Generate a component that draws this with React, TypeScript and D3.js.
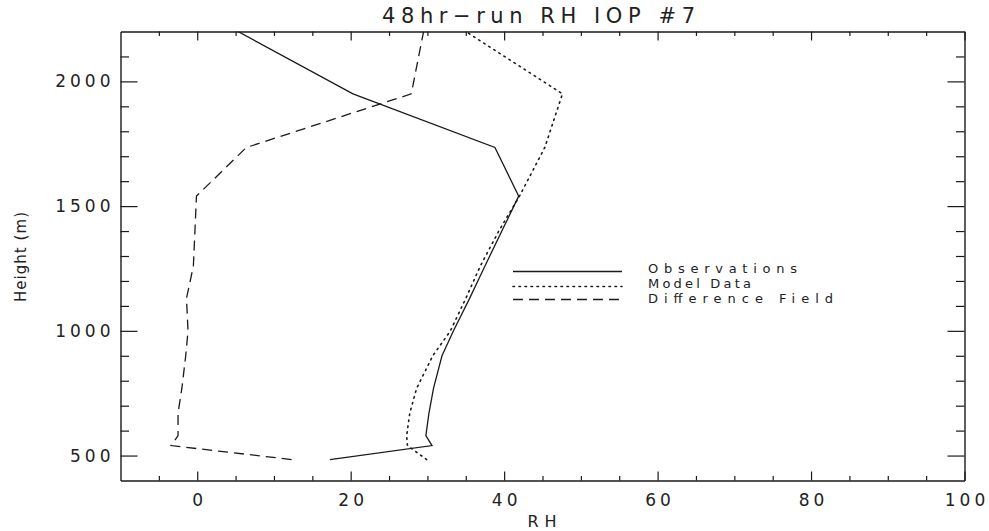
import * as d3 from 'd3'
import { useEffect, useRef } from 'react'

// sounding levels (m) and the three RH profiles
const heights = [484, 540, 580, 670, 770, 900, 1000, 1130, 1260, 1400, 1540, 1735, 1950, 2200]
const observations = [17.3, 30.6, 29.8, 30.2, 30.8, 31.9, 33.4, 35.5, 37.5, 39.7, 41.9, 38.8, 20.3, 5.3]
const modelData = [29.9, 27.4, 27.3, 27.7, 28.6, 30.7, 33.0, 35.0, 36.9, 39.3, 42.0, 45.3, 47.6, 35.0]
const differenceField = [12.3, -3.4, -2.5, -2.5, -2.0, -1.5, -1.2, -1.4, -0.5, -0.3, -0.1, 6.4, 27.9, 29.5]

const xTicks = [0, 20, 40, 60, 80, 100]
const xMinorTicks = [-5, 5, 10, 15, 25, 30, 35, 45, 50, 55, 65, 70, 75, 85, 90, 95]
const yTicks = [500, 1000, 1500, 2000]
const yMinorTicks = [600, 700, 800, 900, 1100, 1200, 1300, 1400, 1600, 1700, 1800, 1900, 2100]

const seriesNames = ['Observations', 'Model Data', 'Difference Field']
const seriesDash = ['none', '1.5,4.5', '10,6']
const legendTextLength = [149, 103, 185]

const FONT = '"DejaVu Sans", Verdana, sans-serif'
const INK = '#1a1a1a'

const App = () => {
    const svgRef = useRef<SVGSVGElement>(null)

    useEffect(() => {
        const w = 989
        const h = 531
        const left = 120.5, right = 964.5, top = 31.5, bottom = 480.5

        const svg = d3.select(svgRef.current).attr('width', w).attr('height', h)
        svg.selectAll('*').remove()

        const x = d3.scaleLinear().domain([-10, 100]).range([left, right])
        const y = d3.scaleLinear().domain([400, 2200]).range([bottom, top])

        svg.append('defs').append('clipPath').attr('id', 'plot-clip')
            .append('rect').attr('x', left).attr('y', top).attr('width', right - left).attr('height', bottom - top)

        // axes: ticks point inward on all four sides
        const styleAxis = (g: any) => {
            g.selectAll('path.domain').attr('stroke', INK).attr('stroke-width', 1.4)
            g.selectAll('.tick line').attr('stroke', INK).attr('stroke-width', 1.2)
            g.selectAll('.tick text').attr('fill', '#222').style('font-family', FONT)
                .style('font-size', '17px').style('letter-spacing', '4px')
        }

        const bottomAxis = svg.append('g').attr('transform', `translate(0,${bottom})`)
            .call(d3.axisBottom(x).tickValues(xTicks).tickSizeInner(-9).tickSizeOuter(0).tickPadding(13))
        styleAxis(bottomAxis)
        bottomAxis.selectAll('.tick text').attr('dx', 2)
        svg.append('g').attr('transform', `translate(0,${bottom})`)
            .call(d3.axisBottom(x).tickValues(xMinorTicks).tickSize(-4.5).tickFormat(() => ''))
            .call(g => g.select('.domain').remove())
            .call(styleAxis)

        svg.append('g').attr('transform', `translate(0,${top})`)
            .call(d3.axisTop(x).tickValues(xTicks).tickSizeInner(-9).tickSizeOuter(0).tickFormat(() => ''))
            .call(styleAxis)
        svg.append('g').attr('transform', `translate(0,${top})`)
            .call(d3.axisTop(x).tickValues(xMinorTicks).tickSize(-4.5).tickFormat(() => ''))
            .call(g => g.select('.domain').remove())
            .call(styleAxis)

        svg.append('g').attr('transform', `translate(${left},0)`)
            .call(d3.axisLeft(y).tickValues(yTicks).tickSizeInner(-17).tickSizeOuter(0).tickPadding(6).tickFormat(d3.format('d')))
            .call(styleAxis)
        svg.append('g').attr('transform', `translate(${left},0)`)
            .call(d3.axisLeft(y).tickValues(yMinorTicks).tickSize(-8.5).tickFormat(() => ''))
            .call(g => g.select('.domain').remove())
            .call(styleAxis)

        svg.append('g').attr('transform', `translate(${right},0)`)
            .call(d3.axisRight(y).tickValues(yTicks).tickSizeInner(-17).tickSizeOuter(0).tickFormat(() => ''))
            .call(styleAxis)
        svg.append('g').attr('transform', `translate(${right},0)`)
            .call(d3.axisRight(y).tickValues(yMinorTicks).tickSize(-8.5).tickFormat(() => ''))
            .call(g => g.select('.domain').remove())
            .call(styleAxis)

        // profiles
        const series = [observations, modelData, differenceField]
        const line = d3.line<number>().x(d => x(d)).y((d, i) => y(heights[i]))
        svg.append('g').attr('clip-path', 'url(#plot-clip)')
            .selectAll('path').data(series).join('path')
            .attr('d', d => line(d))
            .attr('fill', 'none').attr('stroke', INK)
            .attr('stroke-width', (d, i) => i === 1 ? 1.6 : 1.3)
            .attr('stroke-dasharray', (d, i) => seriesDash[i])
            .attr('stroke-linecap', (d, i) => i === 1 ? 'round' : 'butt')

        // legend
        const legend = svg.append('g')
        const lineY = [271.5, 286.5, 299.5]
        const textY = [273, 288, 303]
        seriesNames.forEach((name, i) => {
            legend.append('line').attr('x1', 513).attr('x2', 622).attr('y1', lineY[i]).attr('y2', lineY[i])
                .attr('stroke', INK).attr('stroke-width', i === 1 ? 1.6 : 1.3)
                .attr('stroke-dasharray', seriesDash[i])
                .attr('stroke-linecap', i === 1 ? 'round' : 'butt')
            legend.append('text').attr('x', 648).attr('y', textY[i]).text(name)
                .attr('textLength', legendTextLength[i]).attr('lengthAdjust', 'spacing')
                .attr('fill', '#222').style('font-family', FONT).style('font-size', '13px')
        })

        // titles
        svg.append('text').attr('x', 538.5).attr('y', 23).attr('text-anchor', 'middle')
            .text('48hr\u2212run RH IOP #7')
            .attr('textLength', 313).attr('lengthAdjust', 'spacing')
            .attr('fill', '#222').style('font-family', FONT).style('font-size', '21px')
        svg.append('text').attr('x', 542).attr('y', 527).attr('text-anchor', 'middle')
            .text('RH').attr('textLength', 29).attr('lengthAdjust', 'spacing')
            .attr('fill', '#222').style('font-family', FONT).style('font-size', '16px')
        svg.append('text').attr('transform', 'translate(26,257) rotate(-90)').attr('text-anchor', 'middle')
            .text('Height (m)').attr('textLength', 90).attr('lengthAdjust', 'spacing')
            .attr('fill', '#222').style('font-family', FONT).style('font-size', '15px')
    }, [])

    return (
        <div style={{ position: 'absolute', left: 0, top: 0, background: '#fff' }}>
            <svg ref={svgRef} style={{ display: 'block' }}></svg>
        </div>
    )
}

export default App
